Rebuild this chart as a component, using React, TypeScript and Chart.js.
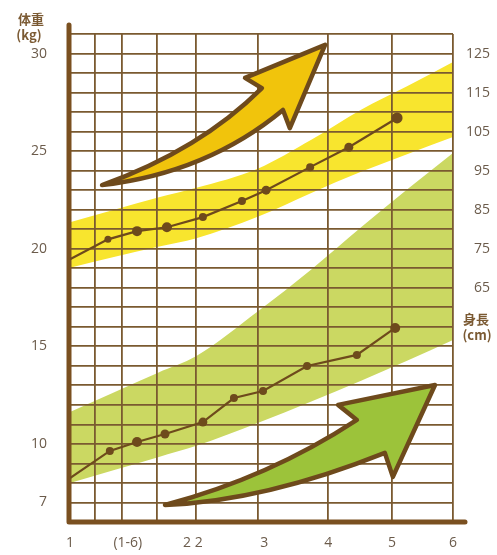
import React, { useEffect, useRef } from 'react';
import { Chart, registerables } from 'chart.js';

Chart.register(...registerables);

// ---- axes ----
const X_MIN = 0;
const X_MAX = 100;
const X_GRID = [0, 6.5, 13.6, 22.8, 33, 49, 67.3, 84, 100];
const X_TICK_POS = [0, 15.1, 32.1, 50.7, 67.4, 84.1, 100];
const X_TICK_LABELS = ['1', '(1-6)', '2 2', '3', '4', '5', '6'];

const WEIGHT_MIN = 6;
const WEIGHT_MAX = 31;
const WEIGHT_TICKS = [7, 10, 15, 20, 25, 30];

const HEIGHT_MIN = 5;
const HEIGHT_MAX = 130;
const HEIGHT_TICKS = [65, 75, 85, 95, 105, 115, 125];

// ---- series ----
const HEIGHT_X = [0, 9.9, 17.5, 25.3, 34.7, 44.9, 51.2, 62.7, 72.8, 85.4];
const HEIGHT_CM = [72.3, 77.4, 79.5, 80.5, 83.1, 87.2, 90.0, 95.9, 101.0, 108.5];
const HEIGHT_POINT_R = [0, 3.5, 5, 5, 4, 4, 4.5, 4, 4.5, 5.5];

const WEIGHT_X = [0, 10.4, 17.5, 24.8, 34.7, 42.8, 50.4, 61.9, 74.9, 84.9];
const WEIGHT_KG = [8.25, 9.64, 10.1, 10.51, 11.12, 12.35, 12.71, 13.99, 14.56, 15.94];
const WEIGHT_POINT_R = [0, 4, 5, 4.5, 4.5, 4, 4, 4, 4, 5];

// ---- reference bands ----
const BAND_X = [0, 12, 23, 33, 49, 63, 76, 88, 100];
const HEIGHT_BAND_HIGH = [81.8, 85.1, 88.1, 90.6, 95.5, 102.9, 110.6, 116.6, 122.8];
const HEIGHT_BAND_LOW = [70.1, 73.0, 75.5, 77.7, 83.2, 89.3, 94.7, 99.2, 103.6];
const WEIGHT_BAND_HIGH = [11.64, 12.69, 13.65, 14.5, 16.78, 18.94, 21.1, 23.03, 24.9];
const WEIGHT_BAND_LOW = [8.0, 8.69, 9.32, 9.9, 11.07, 12.17, 13.24, 14.26, 15.32];

// ---- decorative arrows (x units, kg) ----
const YELLOW_ARROW = {
  tail: [8.36, 23.26], upperCtrl: [33.9, 25.06], notchL: [50.1, 28.23], barbL: [45.7, 28.75],
  tip: [66.6, 30.44], barbR: [57.4, 26.18], notchR: [55.6, 27.11], lowerCtrl: [35.9, 23.9],
};
const GREEN_ARROW = {
  tail: [24.8, 6.87], upperCtrl: [52.0, 8.28], notchL: [74.9, 11.23], barbL: [70.0, 12.0],
  tip: [95.3, 13.02], barbR: [84.3, 8.31], notchR: [82.2, 9.54], lowerCtrl: [50.9, 7.08],
};

const BROWN = '#6e4a1c';
const GRID = '#7a5a30';
const TICK_TEXT = '#6b5b4b';
const YELLOW_BAND = '#f8e52e';
const GREEN_BAND = '#cbd862';
const YELLOW_ARROW_FILL = '#f1c40c';
const GREEN_ARROW_FILL = '#9cc33a';

const pts = (xs: number[], ys: number[]) => xs.map((x, i) => ({ x, y: ys[i] }));

const arrowPlugin = {
  id: 'arrows',
  afterDatasetsDraw(chart: any) {
    const { ctx, scales } = chart;
    const xs = scales.x;
    const ys = scales.y;
    const P = (p: number[]) => [xs.getPixelForValue(p[0]), ys.getPixelForValue(p[1])];
    const draw = (a: any, fill: string) => {
      const t = P(a.tail), uc = P(a.upperCtrl), nl = P(a.notchL), bl = P(a.barbL);
      const tip = P(a.tip), br = P(a.barbR), nr = P(a.notchR), lc = P(a.lowerCtrl);
      ctx.save();
      ctx.beginPath();
      ctx.moveTo(t[0], t[1]);
      ctx.quadraticCurveTo(uc[0], uc[1], nl[0], nl[1]);
      ctx.lineTo(bl[0], bl[1]);
      ctx.lineTo(tip[0], tip[1]);
      ctx.lineTo(br[0], br[1]);
      ctx.lineTo(nr[0], nr[1]);
      ctx.quadraticCurveTo(lc[0], lc[1], t[0], t[1]);
      ctx.closePath();
      ctx.fillStyle = fill;
      ctx.fill();
      ctx.lineJoin = 'round';
      ctx.lineCap = 'round';
      ctx.lineWidth = 4.5;
      ctx.strokeStyle = BROWN;
      ctx.stroke();
      ctx.restore();
    };
    draw(YELLOW_ARROW, YELLOW_ARROW_FILL);
    draw(GREEN_ARROW, GREEN_ARROW_FILL);
  },
};

const axesPlugin = {
  id: 'thickAxes',
  beforeDatasetsDraw(chart: any) {
    const { ctx, chartArea } = chart;
    const { left, right, top, bottom } = chartArea;
    ctx.save();
    ctx.strokeStyle = '#7a5020';
    ctx.lineWidth = 5;
    ctx.lineCap = 'round';
    ctx.lineJoin = 'round';
    ctx.beginPath();
    ctx.moveTo(left - 1, top - 9);
    ctx.lineTo(left - 1, bottom);
    ctx.lineTo(right + 12, bottom);
    ctx.stroke();
    ctx.restore();
  },
};

const titlePlugin = {
  id: 'axisTitles',
  afterDraw(chart: any) {
    const { ctx, chartArea } = chart;
    ctx.save();
    ctx.fillStyle = '#7b5a33';
    ctx.textAlign = 'center';
    ctx.textBaseline = 'middle';
    ctx.font = 'bold 13px "Noto Sans CJK JP", "Noto Sans", sans-serif';
    ctx.fillText('体重', chartArea.left - 39, 19);
    ctx.fillText('(kg)', chartArea.left - 41, 35);
    ctx.fillText('身長', chartArea.right + 23, 319);
    ctx.fillText('(cm)', chartArea.right + 24, 335);
    ctx.restore();
  },
};

export default function App() {
  const ref = useRef<HTMLCanvasElement | null>(null);

  useEffect(() => {
    if (!ref.current) return;
    const xTickValues = Array.from(new Set([...X_GRID, ...X_TICK_POS])).sort((a, b) => a - b);
    const weightGrid: number[] = [];
    for (let v = WEIGHT_MIN; v <= WEIGHT_MAX; v++) weightGrid.push(v);
    const tickFont = { family: '"Open Sans", "Noto Sans", sans-serif', size: 14 };

    const chart = new Chart(ref.current, {
      type: 'line',
      data: {
        datasets: [
          {
            label: 'height-band-high', data: pts(BAND_X, HEIGHT_BAND_HIGH), yAxisID: 'y2',
            borderWidth: 0, pointRadius: 0, fill: '+1', backgroundColor: YELLOW_BAND,
            tension: 0.4, cubicInterpolationMode: 'monotone',
          },
          {
            label: 'height-band-low', data: pts(BAND_X, HEIGHT_BAND_LOW), yAxisID: 'y2',
            borderWidth: 0, pointRadius: 0, fill: false, tension: 0.4, cubicInterpolationMode: 'monotone',
          },
          {
            label: 'weight-band-high', data: pts(BAND_X, WEIGHT_BAND_HIGH), yAxisID: 'y',
            borderWidth: 0, pointRadius: 0, fill: '+1', backgroundColor: GREEN_BAND,
            tension: 0.4, cubicInterpolationMode: 'monotone',
          },
          {
            label: 'weight-band-low', data: pts(BAND_X, WEIGHT_BAND_LOW), yAxisID: 'y',
            borderWidth: 0, pointRadius: 0, fill: false, tension: 0.4, cubicInterpolationMode: 'monotone',
          },
          {
            label: '身長', data: pts(HEIGHT_X, HEIGHT_CM), yAxisID: 'y2',
            borderColor: BROWN, borderWidth: 2.2, backgroundColor: BROWN,
            pointBackgroundColor: BROWN, pointBorderColor: BROWN, pointBorderWidth: 0,
            pointRadius: HEIGHT_POINT_R, tension: 0, fill: false,
          },
          {
            label: '体重', data: pts(WEIGHT_X, WEIGHT_KG), yAxisID: 'y',
            borderColor: BROWN, borderWidth: 2.2, backgroundColor: BROWN,
            pointBackgroundColor: BROWN, pointBorderColor: BROWN, pointBorderWidth: 0,
            pointRadius: WEIGHT_POINT_R, tension: 0, fill: false,
          },
        ],
      },
      options: {
        responsive: false,
        animation: false,
        events: [],
        layout: { padding: { top: 34, right: 7, left: 0, bottom: 0 } },
        plugins: {
          legend: { display: false },
          tooltip: { enabled: false },
          filler: { drawTime: 'beforeDraw' },
        },
        scales: {
          x: {
            type: 'linear', min: X_MIN, max: X_MAX,
            afterBuildTicks: (s: any) => { s.ticks = xTickValues.map((v) => ({ value: v })); },
            afterFit: (s: any) => { s.height = 33; },
            border: { display: false },
            grid: {
              drawTicks: false,
              lineWidth: 1.8,
              color: (c: any) => (c.tick && X_GRID.includes(c.tick.value) ? GRID : 'rgba(0,0,0,0)'),
            },
            ticks: {
              autoSkip: false, maxRotation: 0, padding: 13, color: TICK_TEXT, font: tickFont,
              callback: (v: any) => {
                const i = X_TICK_POS.indexOf(Number(v));
                return i >= 0 ? X_TICK_LABELS[i] : '';
              },
            },
          },
          y: {
            type: 'linear', position: 'left', min: WEIGHT_MIN, max: WEIGHT_MAX,
            afterBuildTicks: (s: any) => { s.ticks = weightGrid.map((v) => ({ value: v })); },
            afterFit: (s: any) => { s.width = 70; },
            border: { display: false },
            grid: { drawTicks: false, lineWidth: 1.8, color: GRID },
            ticks: {
              autoSkip: false, padding: 23, color: TICK_TEXT, font: tickFont,
              callback: (v: any) => (WEIGHT_TICKS.includes(Number(v)) ? String(v) : ''),
            },
          },
          y2: {
            type: 'linear', position: 'right', min: HEIGHT_MIN, max: HEIGHT_MAX,
            afterBuildTicks: (s: any) => { s.ticks = HEIGHT_TICKS.map((v) => ({ value: v })); },
            afterFit: (s: any) => { s.width = 37; },
            border: { display: false },
            grid: { display: false, drawTicks: false },
            ticks: {
              autoSkip: false, padding: 15, crossAlign: 'far', color: TICK_TEXT, font: tickFont,
            },
          },
        },
      },
      plugins: [axesPlugin, arrowPlugin, titlePlugin],
    } as any);

    return () => chart.destroy();
  }, []);

  return (
    <div style={{ position: 'fixed', left: 0, top: 0, width: 497, height: 555, background: '#fff' }}>
      <canvas ref={ref} width={497} height={555} style={{ display: 'block' }} />
    </div>
  );
}
